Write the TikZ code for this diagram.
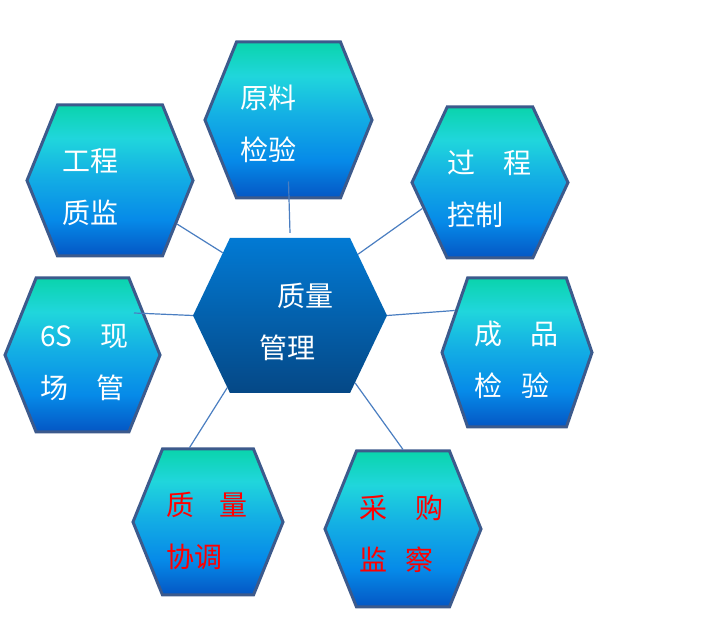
\documentclass[tikz,border=0pt]{standalone}
\usepackage{fontspec}
\setmainfont{Noto Sans CJK SC}
\usetikzlibrary{shapes.symbols}

\definecolor{hexTop}{RGB}{10,212,172}
\definecolor{hexCyan}{RGB}{32,214,220}
\definecolor{hexMid}{RGB}{20,176,228}
\definecolor{hexLow}{RGB}{6,138,232}
\definecolor{hexBot}{RGB}{4,86,196}
\definecolor{hexBorder}{RGB}{60,90,140}
\definecolor{coreTop}{RGB}{2,122,212}
\definecolor{coreBot}{RGB}{5,72,134}
\definecolor{linkBlue}{RGB}{74,126,193}

\pgfdeclareverticalshading{hexshade}{100bp}{color(0bp)=(hexBot); color(25bp)=(hexBot);
  color(37bp)=(hexLow); color(52bp)=(hexMid); color(64bp)=(hexCyan);
  color(75bp)=(hexTop); color(100bp)=(hexTop)}
\pgfdeclareverticalshading{coreshade}{100bp}{color(0bp)=(coreBot); color(25bp)=(coreBot);
  color(75bp)=(coreTop); color(100bp)=(coreTop)}

\tikzset{
  hexbox/.style={signal, signal to=east and west, signal pointer angle=136,
    draw=hexBorder, line width=3pt, shading=hexshade, inner sep=0pt},
  corebox/.style={signal, signal to=east and west, signal pointer angle=129,
    shading=coreshade, inner sep=0pt, minimum width=194pt, minimum height=155pt},
  hextext/.style={anchor=west, align=left, inner sep=0pt, text=white,
    font=\fontsize{28}{52}\selectfont},
  redtext/.style={hextext, text=red},
  link/.style={draw=linkBlue, line width=1.2pt}
}

\begin{document}
\begin{tikzpicture}[x=1pt,y=-1pt]
    \fill[white] (0,0) rectangle (713,617);
    \useasboundingbox (0,0) rectangle (713,617);
    % Centre
    \node[corebox] (zl) at (290,315.5) {};
    % Outer hexagons
    \node[hexbox, minimum width=167pt, minimum height=156pt] (yl) at (288.5,120) {};
    \node[hexbox, minimum width=166pt, minimum height=151pt] (gc) at (110,180.5) {};
    \node[hexbox, minimum width=156pt, minimum height=151pt, signal pointer angle=130] (gk) at (490,182.5) {};
    \node[hexbox, minimum width=150pt, minimum height=149pt, signal pointer angle=142] (cp) at (517,352.5) {};
    \node[hexbox, minimum width=155pt, minimum height=154pt] (xc) at (82.5,355) {};
    \node[hexbox, minimum width=150pt, minimum height=146pt] (xt) at (208,522) {};
    \node[hexbox, minimum width=156pt, minimum height=156pt] (cg) at (403,529) {};
    % Texts
    \node[hextext] (zltxt) at (259,321.5) {\hspace*{18pt}质量\\管理};
    \node[hextext] (yltxt) at (240,124) {原料\\检验};
    \node[hextext] (gctxt) at (62,187.5) {工程\\质监};
    \node[hextext] (gktxt) at (447,189) {过\hspace{1em}程\\控制};
    \node[hextext] (cptxt) at (474,360) {成\hspace{1em}品\\检\hspace{0.7em}验};
    \node[hextext] (xctxt) at (40,362.5) {6S\hspace{1em}现\\场\hspace{1em}管};
    \node[redtext] (xttxt) at (166,531) {质\hspace{0.9em}量\\协调};
    \node[redtext] (cgtxt) at (359,534) {采\hspace{1em}购\\监\hspace{0.65em}察};
    % Connectors
    \draw[link] ([yshift=18pt]yl.south) -- ([yshift=5pt]zl.north);
    \draw[link] (gc.-33) -- (zl.137);
    \draw[link] (gk.201) -- (zl.42);
    \draw[link] (cp.146) -- (zl.east);
    \draw[link] ([shift={(51.5pt,42pt)}]xc.center) -- (zl.west);
    \draw[link] (xt.104) -- (zl.229);
    \draw[link] (cg.north) -- (zl.-46);
\end{tikzpicture}
\end{document}
